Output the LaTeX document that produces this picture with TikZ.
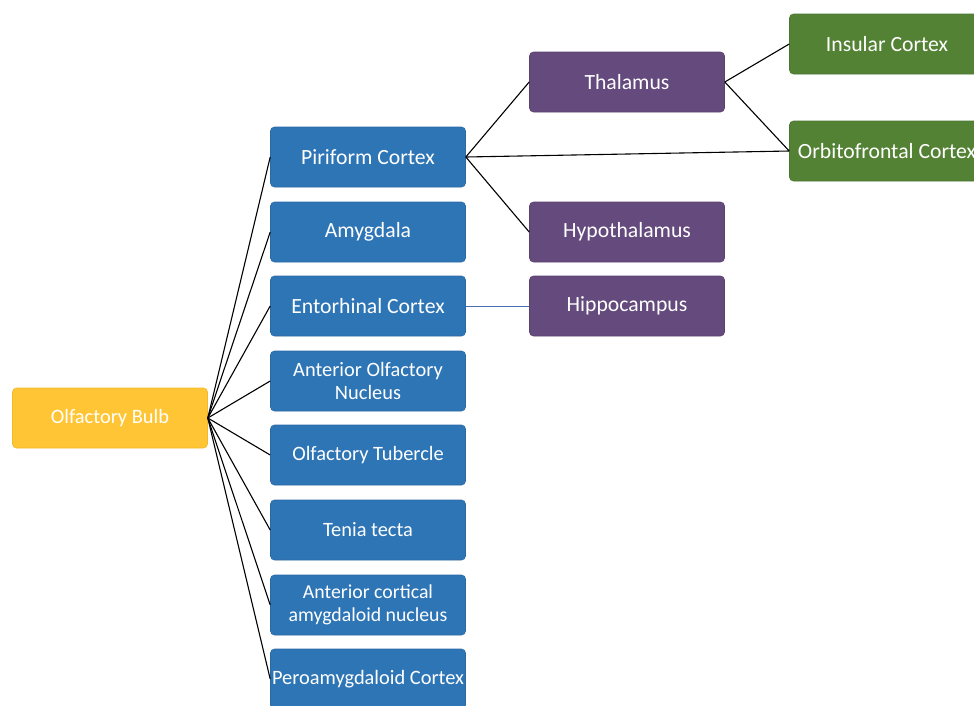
\documentclass[tikz,border=0pt]{standalone}
\usepackage{fontspec}
\setmainfont{Carlito}
\begin{document}
\begin{tikzpicture}[x=1pt,y=-1pt,
  box/.style={rounded corners=4pt, minimum width=195pt, minimum height=60pt, inner xsep=0pt, inner ysep=2pt,
    text=white, font=\fontsize{20.4}{23}\selectfont, align=center, line width=0.6pt},
  big/.style={font=\fontsize{21.7}{24}\selectfont},
  small/.style={font=\fontsize{19.8}{23}\selectfont},
  bluebox/.style={box, fill=bluef, draw=blued},
  purplebox/.style={box, fill=purf, draw=purd},
  greenbox/.style={box, fill=grnf, draw=grnd},
  yellowbox/.style={box, fill=yelf, draw=yeld},
  conn/.style={draw=black, line width=1.1pt},
  bconn/.style={draw=linkblue, line width=0.8pt}]
\definecolor{bluef}{HTML}{2E75B6}
\definecolor{blued}{HTML}{2A69A3}
\definecolor{purf}{HTML}{654A7D}
\definecolor{purd}{HTML}{5A4170}
\definecolor{grnf}{HTML}{548235}
\definecolor{grnd}{HTML}{4A7530}
\definecolor{yelf}{HTML}{FFC534}
\definecolor{yeld}{HTML}{F2B928}
\definecolor{linkblue}{HTML}{4A6FB5}
\useasboundingbox (0,0) rectangle (974,705);
\clip (0,0) rectangle (974,705);
\node[yellowbox] (ob) at (110,418) {Olfactory Bulb};
\node[bluebox, big] (pc) at (368,157) {Piriform Cortex};
\node[bluebox, big] (am) at (368,232) {Amygdala};
\node[bluebox, big] (ec) at (368,306) {Entorhinal Cortex};
\node[bluebox] (aon) at (368,381) {Anterior Olfactory\\Nucleus};
\node[bluebox] (ot) at (368,455) {Olfactory Tubercle};
\node[bluebox] (tt) at (368,530) {Tenia tecta};
\node[bluebox, small] (acn) at (368,605) {Anterior cortical\\amygdaloid nucleus};
\node[bluebox] (pa) at (368,679) {Peroamygdaloid Cortex};
\node[purplebox, big] (th) at (627,82) {Thalamus};
\node[purplebox, big] (hy) at (627,232) {Hypothalamus};
\node[purplebox, big] (hi) at (627,306) {Hippocampus};
\node[greenbox, big] (ic) at (887,44) {Insular Cortex};
\node[greenbox, big] (of) at (887,151) {Orbitofrontal Cortex};
\foreach \n in {pc,am,ec,aon,ot,tt,acn,pa}
  \draw[conn] (ob.east) -- (\n.west);
\draw[conn] (pc.east) -- (th.west);
\draw[conn] (pc.east) -- (hy.west);
\draw[conn] (pc.east) -- (of.west);
\draw[conn] (th.east) -- (ic.west);
\draw[conn] (th.east) -- (of.west);
\draw[bconn] (ec.east) -- (hi.west);
\end{tikzpicture}
\end{document}
